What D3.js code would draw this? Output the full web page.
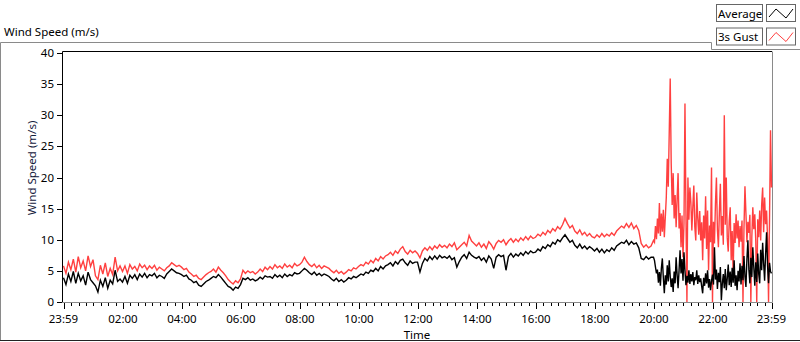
<!DOCTYPE html>
<html>
<head>
<meta charset="utf-8">
<script src="https://cdn.jsdelivr.net/npm/d3@7"></script>
<style>
  body { margin: 0; background: #fff; }
  svg { display: block; font-family: "Noto Sans", "Open Sans", sans-serif; }
</style>
</head>
<body>
<div id="chart"></div>
<script>
// First 20 h sampled every 5 min, the gusty last 4 h every 2 min
const dayStepMinutes = 5;
const lateStepMinutes = 2;

// Average wind speed (m/s), 23:59 -> 19:59, 12 values per hour
const dayAverage = [
  3.9, 2.8, 4.5, 3.3, 4.9, 3.0, 4.6, 3.4, 4.2, 2.7, 4.8, 3.6,
  3.1, 2.6, 1.6, 3.5, 2.5, 3.9, 2.2, 3.5, 2.9, 5.1, 3.3, 3.7,
  3.2, 4.1, 3.0, 4.3, 3.8, 4.4, 3.6, 4.5, 4.0, 4.6, 3.9, 4.4,
  4.2, 4.6, 3.9, 4.3, 4.1, 3.8, 4.5, 4.9, 5.3, 5.0, 4.7, 4.6,
  4.4, 4.1, 4.3, 3.7, 3.5, 3.1, 3.3, 2.7, 2.5, 2.9, 3.3, 3.5,
  3.8, 4.1, 3.9, 4.4, 4.0, 3.5, 3.0, 2.5, 2.3, 1.9, 2.4, 2.2,
  2.8, 3.8, 3.6, 3.9, 3.5, 3.7, 3.4, 3.6, 4.0, 3.7, 4.2, 4.0,
  4.1, 3.8, 4.4, 4.0, 4.3, 3.9, 4.5, 4.1, 4.4, 4.2, 4.7, 4.5,
  4.6, 5.0, 5.4, 5.1, 4.7, 4.4, 4.8, 4.3, 4.6, 4.2, 4.5, 4.3,
  4.1, 3.7, 3.4, 3.8, 3.3, 3.6, 3.2, 3.5, 3.9, 3.7, 4.1, 3.9,
  4.2, 4.5, 4.3, 4.8, 4.6, 5.1, 4.9, 5.4, 5.0, 5.7, 5.3, 5.8,
  6.0, 6.3, 5.8, 6.5, 6.1, 6.7, 6.9, 6.3, 5.9, 6.6, 6.2, 6.4,
  6.4, 4.8, 6.2, 7.0, 6.6, 7.3, 6.8, 7.4, 6.9, 7.5, 7.1, 7.3,
  7.0, 7.4, 6.8, 7.1, 5.6, 6.5, 7.2, 7.6, 7.0, 8.0, 7.5, 7.2,
  7.0, 7.3, 6.7, 7.1, 6.4, 7.4, 6.9, 5.4, 7.2, 7.6, 7.3, 7.5,
  5.1, 7.3, 7.8, 7.2, 7.7, 7.4, 7.9, 7.5, 8.1, 7.7, 8.2, 7.9,
  8.0, 8.5, 8.2, 8.9, 8.6, 9.2, 8.9, 9.6, 9.3, 10.0, 9.7, 10.3,
  10.8, 10.2, 9.6, 9.9, 9.1, 8.7, 9.3, 8.6, 9.0, 8.5, 8.9, 8.6,
  8.2, 8.6, 8.0, 8.5, 7.9, 8.4, 8.1, 8.7, 8.3, 9.0, 9.3, 9.6,
  9.4, 9.9, 9.2, 9.7, 9.3, 9.5, 8.7, 7.0, 6.8, 7.3, 6.9, 7.2
];

// 3 s gust (m/s), 23:59 -> 19:59, 12 values per hour
const dayGust = [
  5.8, 4.6, 6.4, 5.2, 6.9, 4.8, 7.3, 5.5, 6.6, 5.0, 7.4, 5.7,
  6.8, 4.2, 3.6, 5.9, 4.5, 6.3, 4.1, 5.4, 4.4, 7.2, 5.0, 5.8,
  4.9, 5.8, 4.6, 6.0, 5.3, 5.7, 5.0, 6.1, 5.5, 5.9, 5.2, 5.8,
  5.4, 5.9, 5.1, 5.6, 5.3, 5.0, 5.5, 5.8, 6.3, 6.0, 5.7, 5.9,
  5.6, 5.2, 5.4, 4.8, 4.5, 4.1, 4.3, 3.8, 3.6, 4.0, 4.4, 4.7,
  4.9, 5.3, 4.8, 5.6, 5.1, 4.7, 4.2, 3.6, 3.2, 2.9, 3.4, 3.1,
  3.7, 5.1, 4.6, 5.0, 4.7, 4.9, 4.5, 4.8, 5.3, 4.9, 5.6, 5.2,
  5.7, 5.3, 6.0, 5.5, 5.8, 5.4, 6.1, 5.6, 5.9, 5.5, 6.2, 5.8,
  6.0, 6.4, 7.2, 6.5, 6.0, 5.7, 6.1, 5.5, 5.9, 5.4, 5.8, 5.6,
  5.4, 5.0, 4.7, 5.1, 4.6, 4.9, 4.5, 4.8, 5.2, 5.0, 5.5, 5.3,
  5.7, 6.0, 5.8, 6.4, 6.1, 6.7, 6.3, 7.0, 6.6, 7.3, 6.9, 7.4,
  7.6, 8.0, 7.5, 8.2, 7.8, 8.5, 8.9, 8.1, 7.7, 8.3, 7.9, 8.2,
  7.8, 7.1, 8.2, 8.7, 8.3, 8.9, 8.4, 9.0, 8.6, 9.2, 8.8, 9.1,
  8.7, 9.3, 8.9, 9.5, 8.4, 8.8, 9.2, 9.6, 9.0, 10.7, 9.8, 9.4,
  9.0, 9.5, 8.8, 9.3, 8.6, 9.7, 9.2, 8.5, 9.4, 9.9, 9.6, 10.0,
  9.2, 9.8, 10.2, 9.6, 10.1, 9.7, 10.3, 9.9, 10.5, 10.0, 10.6, 10.2,
  10.4, 10.9, 10.6, 11.2, 10.8, 11.5, 11.1, 11.8, 11.4, 12.1, 11.7, 12.4,
  13.4, 12.6, 11.9, 12.3, 11.4, 11.0, 11.6, 10.8, 11.2, 10.6, 11.0, 10.5,
  10.3, 10.8, 10.4, 11.0, 10.5, 10.9, 10.6, 11.1, 10.7, 11.4, 11.8, 12.2,
  11.9, 12.6, 12.0, 12.7, 11.8, 12.3, 11.5, 9.4, 8.8, 9.2, 8.7, 9.0
];

// Average wind speed (m/s), 19:59 -> 23:59, every 2 min
const lateAverage = [
  7.2, 6.7, 5.6, 4.6, 5.2, 3.1, 4.8, 2.6, 5.4, 7.0,
  3.9, 1.4, 4.3, 2.8, 5.9, 3.3, 6.7, 4.1, 2.4, 3.8,
  1.6, 4.9, 3.0, 7.2, 4.4, 2.2, 5.1, 8.3, 4.6, 6.9,
  3.4, 8.0, 5.0, 2.7, 4.2, 3.1, 5.1, 2.9, 4.5, 3.3,
  4.8, 2.7, 4.0, 3.5, 5.1, 2.9, 4.3, 3.2, 3.8, 2.5,
  1.4, 3.9, 2.6, 4.6, 3.0, 5.1, 2.3, 3.7, 1.9, 3.4,
  4.4, 2.8, 8.8, 3.6, 5.2, 2.1, 4.7, 3.2, 5.6, 0.3,
  3.0, 4.5, 2.2, 5.3, 1.9, 3.8, 6.0, 2.7, 4.9, 2.4,
  5.5, 3.1, 6.7, 2.6, 4.3, 1.9, 5.0, 3.3, 6.2, 2.8,
  5.8, 3.5, 7.4, 4.1, 2.4, 6.9, 9.9, 5.2, 3.0, 7.1,
  4.0, 8.8, 5.6, 2.6, 6.4, 3.2, 7.8, 4.5, 3.0, 8.4,
  5.1, 9.5, 6.2, 3.4, 7.7, 11.2, 5.8, 3.0, 6.3, 4.9,
  4.6
];

// 3 s gust (m/s), 19:59 -> 23:59, every 2 min
const lateGust = [
  9.9, 9.6, 12.2, 10.1, 13.4, 11.0, 15.9, 10.6, 14.2, 11.3,
  14.8, 10.4, 13.6, 16.8, 23.0, 18.5, 27.2, 35.9, 22.3, 15.6,
  20.7, 13.4, 17.2, 12.0, 16.5, 20.7, 11.8, 14.3, 8.8, 13.9,
  7.2, 12.6, 31.9, 14.0, 0, 20.0, 13.2, 18.4, 16.0, 11.5,
  15.3, 18.7, 12.1, 9.9, 17.6, 13.5, 10.8, 14.6, 9.9, 12.8,
  6.7, 13.9, 10.2, 17.0, 8.5, 14.7, 5.1, 12.3, 9.6, 21.6,
  0, 12.9, 9.4, 15.8, 20.0, 11.6, 8.8, 14.5, 19.0, 10.7,
  13.8, 9.2, 30.0, 12.4, 20.0, 10.3, 8.1, 13.0, 15.2, 6.7,
  11.4, 4.6, 12.7, 9.5, 14.1, 10.2, 13.1, 8.8, 12.2, 9.7,
  13.1, 0, 11.8, 18.6, 14.3, 9.6, 12.9, 11.1, 14.0, 0,
  10.5, 15.2, 11.7, 14.1, 9.8, 0, 13.3, 10.4, 14.7, 9.9,
  15.6, 18.4, 11.2, 16.8, 12.5, 14.7, 10.1, 0, 13.6, 27.6,
  18.4
];

const seriesNames = ["Average", "3s Gust"];
const seriesColors = ["#000000", "#ff4040"];
const yTickValues = [0, 5, 10, 15, 20, 25, 30, 35, 40];
const xTickLabels = ["23:59", "02:00", "04:00", "06:00", "08:00", "10:00", "12:00",
                     "14:00", "16:00", "18:00", "20:00", "22:00", "23:59"];

const width = 800, height = 342;
const plotLeft = 63.5, plotRight = 771.5, plotTop = 53, plotBottom = 302;

const startTime = new Date(2024, 0, 1, 23, 59);
const endTime = new Date(2024, 0, 2, 23, 59);
const MIN = 60000;

const x = d3.scaleTime().domain([startTime, endTime]).range([plotLeft, plotRight]);
const y = d3.scaleLinear().domain([0, 40]).range([plotBottom, plotTop]);

// join the two sampling blocks into one time series
function buildSeries(dayValues, lateValues) {
    const lateStart = startTime.getTime() + dayValues.length * dayStepMinutes * MIN;
    return dayValues.map((v, i) => ({ t: new Date(startTime.getTime() + i * dayStepMinutes * MIN), v }))
        .concat(lateValues.map((v, k) => ({ t: new Date(lateStart + k * lateStepMinutes * MIN), v })));
}
const seriesData = [buildSeries(dayAverage, lateAverage), buildSeries(dayGust, lateGust)];

const svg = d3.select('#chart').append('svg')
    .attr('width', width)
    .attr('height', height);

// outer frame
svg.append('path')
    .attr('d', 'M0.5,340 V42.5 H711.5 V49.5 H800')
    .attr('fill', 'none').attr('stroke', '#8a8a8a');
svg.append('line')
    .attr('x1', 0).attr('x2', 800).attr('y1', 340.5).attr('y2', 340.5)
    .attr('stroke', '#222');

svg.append('text')
    .attr('x', 4).attr('y', 36)
    .attr('font-size', 11.5).attr('fill', '#000')
    .text('Wind Speed (m/s)');

// plot frame
svg.append('rect')
    .attr('x', 62.5).attr('y', 51.5).attr('width', 709.5).attr('height', 250.5)
    .attr('fill', '#fff');
svg.append('path')
    .attr('d', 'M62.5,302 V51.5 H772')
    .attr('fill', 'none').attr('stroke', '#000');
svg.append('path')
    .attr('d', 'M772.5,51.5 V302.5 H62')
    .attr('fill', 'none').attr('stroke', '#8a8a8a');

// data lines
const line = d3.line()
    .x(d => x(d.t))
    .y(d => y(d.v));

[1, 0].forEach(s => {
    svg.append('path')
        .datum(seriesData[s])
        .attr('d', line)
        .attr('fill', 'none')
        .attr('stroke', seriesColors[s])
        .attr('stroke-width', 1.4)
        .attr('stroke-linejoin', 'miter');
});

// y axis
const yAxis = svg.append('g');
yAxis.selectAll('line.tick')
    .data(yTickValues)
    .enter().append('line')
    .attr('x1', 57).attr('x2', 62)
    .attr('y1', d => Math.round(y(d)) + 0.5).attr('y2', d => Math.round(y(d)) + 0.5)
    .attr('stroke', '#000');
yAxis.selectAll('text')
    .data(yTickValues)
    .enter().append('text')
    .attr('x', 54).attr('y', d => y(d))
    .attr('dy', '0.35em')
    .attr('text-anchor', 'end')
    .attr('font-size', 11.5)
    .text(d => d);

svg.append('text')
    .attr('transform', 'translate(36,168) rotate(-90)')
    .attr('text-anchor', 'middle')
    .attr('font-size', 11.5)
    .attr('fill', '#14203c')
    .text('Wind Speed (m/s)');

// x axis
const majorTimes = [startTime].concat(d3.timeHour.every(2).range(
    new Date(2024, 0, 2, 2, 0), new Date(2024, 0, 2, 23, 0)), [endTime]);
const minorTimes = d3.timeMinute.every(15).range(
    new Date(2024, 0, 2, 0, 15), new Date(2024, 0, 2, 23, 59))
    .filter(t => !(t.getMinutes() === 0 && t.getHours() % 2 === 0));

const xAxis = svg.append('g');
xAxis.selectAll('line.minor')
    .data(minorTimes)
    .enter().append('line')
    .attr('class', 'minor')
    .attr('x1', d => Math.round(x(d)) + 0.5).attr('x2', d => Math.round(x(d)) + 0.5)
    .attr('y1', 303).attr('y2', 306)
    .attr('stroke', '#000');
xAxis.selectAll('line.major')
    .data(majorTimes)
    .enter().append('line')
    .attr('class', 'major')
    .attr('x1', d => Math.round(x(d)) + 0.5).attr('x2', d => Math.round(x(d)) + 0.5)
    .attr('y1', 303).attr('y2', 309)
    .attr('stroke', '#000');
xAxis.selectAll('text')
    .data(majorTimes)
    .enter().append('text')
    .attr('x', d => x(d)).attr('y', 323)
    .attr('text-anchor', 'middle')
    .attr('font-size', 11.5)
    .text((d, i) => xTickLabels[i]);

svg.append('text')
    .attr('x', 417).attr('y', 339)
    .attr('text-anchor', 'middle')
    .attr('font-size', 11.5)
    .text('Time');

// legend
const legend = svg.append('g');
seriesNames.forEach((name, i) => {
    const ly = 4 + i * 23.5;
    legend.append('rect')
        .attr('x', 716.5).attr('y', ly + 0.5).attr('width', 46).attr('height', 17)
        .attr('fill', '#fff').attr('stroke', '#666');
    legend.append('text')
        .attr('x', 718).attr('y', ly + 13.5)
        .attr('font-size', 11.5)
        .text(name);
    legend.append('rect')
        .attr('x', 766.5).attr('y', ly + 0.5).attr('width', 29).attr('height', 17)
        .attr('fill', '#fff').attr('stroke', '#666');
    legend.append('polyline')
        .attr('points', [[769, ly + 13], [776, ly + 5], [786, ly + 14], [793, ly + 5]].join(' '))
        .attr('fill', 'none')
        .attr('stroke', seriesColors[i]);
});
</script>
</body>
</html>
